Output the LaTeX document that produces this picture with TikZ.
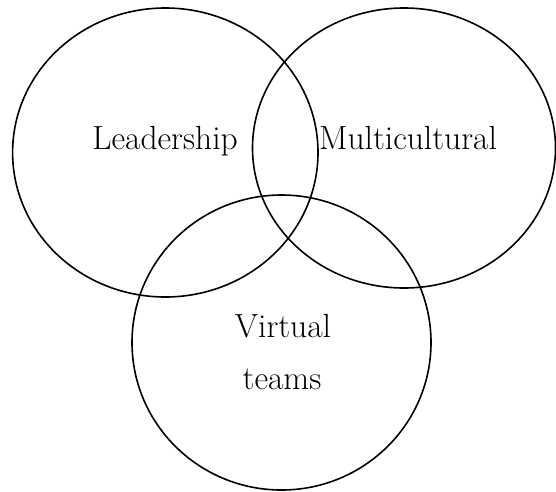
\documentclass[tikz,border=0pt]{standalone}
\usepackage{tikz}

\begin{document}
\begin{tikzpicture}[x=1pt,y=-1pt,line width=1.6pt]

\useasboundingbox (0,0) rectangle (556,491);

\draw (165.3,152.5) ellipse [x radius=152.7pt, y radius=144.5pt];
\draw (404,148) ellipse [x radius=151.5pt, y radius=140pt];
\draw (281.5,342.5) ellipse [x radius=149.5pt, y radius=147.5pt];

\node[anchor=base, font=\fontsize{33.5}{40}\selectfont] (lead) at (165,149) {Leadership};
\node[anchor=base, font=\fontsize{33.5}{40}\selectfont] (multi) at (408,149) {Multicultural};

\node[anchor=base, font=\fontsize{33.5}{40}\selectfont] (virt) at (283,337) {Virtual};
\node[anchor=base, font=\fontsize{33.5}{40}\selectfont] (teams) at (282,389) {teams};

\end{tikzpicture}
\end{document}
